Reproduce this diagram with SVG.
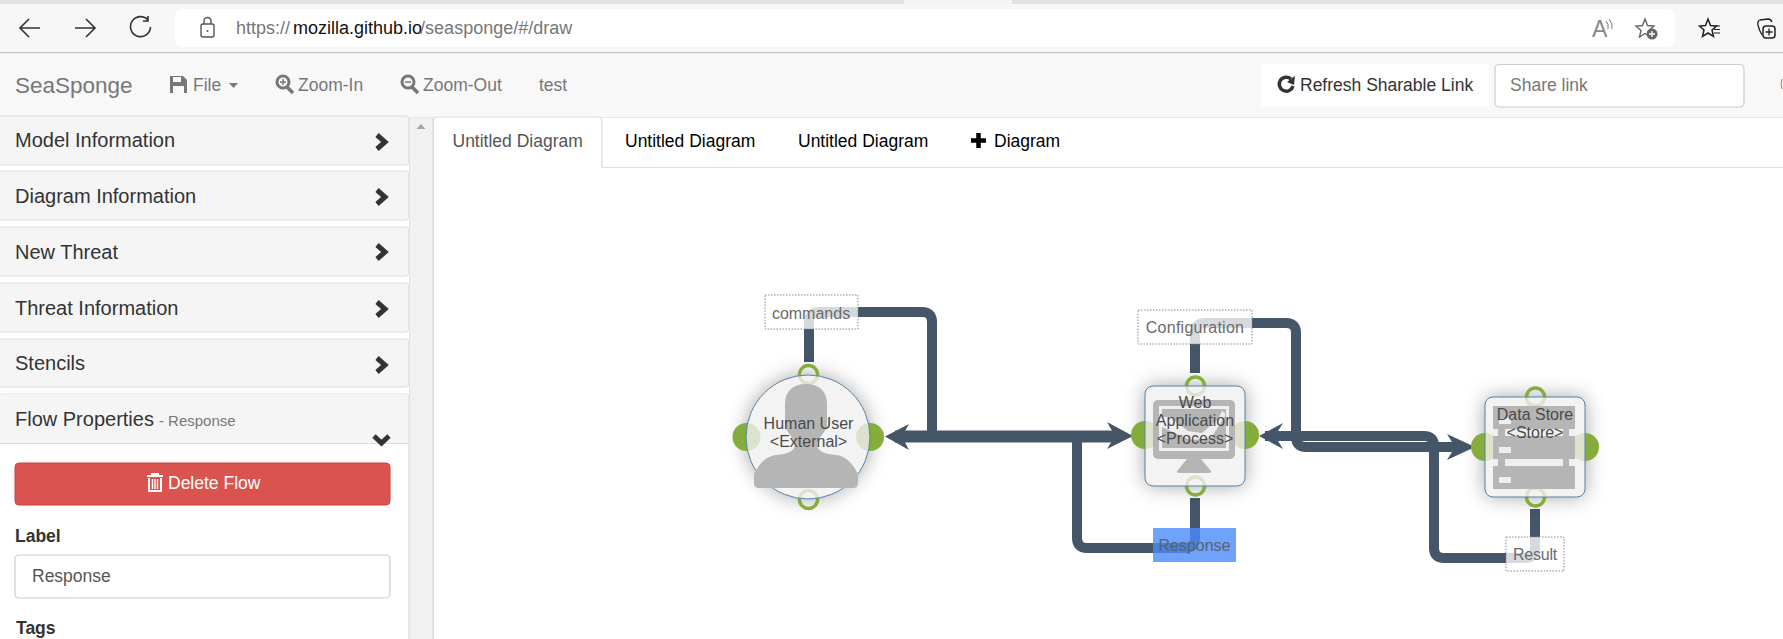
<svg xmlns="http://www.w3.org/2000/svg" width="1783" height="639" viewBox="0 0 1783 639">
<style>
text{font-family:"Liberation Sans",Arial,sans-serif}
.nav{font-size:17.5px;fill:#777}
.head{font-size:20px;fill:#333}
.tab{font-size:17.5px;fill:#000}
.panel{fill:#f5f5f5;stroke:#ddd;stroke-width:1.2}
.chev{fill:none;stroke:#333;stroke-width:5}
.ic{fill:none;stroke:#333;stroke-width:1.6}
.flow{fill:none;stroke:#455668;stroke-width:10;stroke-linejoin:round}
.main{stroke-width:12}
.arrow{fill:#455668}
.anchor{fill:#85ad3c}
.ring{fill:none;stroke:#85ad3c;stroke-width:3.5}
.body{fill:#f0f0f0;fill-opacity:.8;stroke:#5583a6;stroke-width:1}
.mask{fill:#fff}
.shadow{fill:#000;fill-opacity:.36;filter:url(#blur)}
.icon{fill:#b5b5b5}
.gap{fill:#efefef}
.nlabel{font-size:16px;fill:#4a4a4a;text-anchor:middle}
.lbox{fill:#fff;fill-opacity:.78;stroke:#888;stroke-width:1;stroke-dasharray:1.5 1.5}
.ltext{font-size:16px;fill:#6a6a6a;text-anchor:middle}
</style>
<defs>
<filter id="blur" x="-50%" y="-50%" width="200%" height="200%"><feGaussianBlur stdDeviation="10"/></filter>
</defs>
<rect width="1783" height="639" fill="#fff"/>

<g id="browser-chrome">
<rect width="1783" height="52" fill="#f7f7f7"/>
<rect width="1783" height="4" fill="#e2e2e2"/>
<rect x="904" width="108" height="4" fill="#f3f3f3"/>
<rect y="52" width="1783" height="1.5" fill="#c4c4c4"/>
<rect x="175" y="9" width="1500" height="38" rx="7" fill="#fff"/>
<path class="ic" d="M40 28H20M29 19l-9 9 9 9M75 28h20M86 19l9 9-9 9"/>
<path class="ic" d="M148 20a10 10 0 1 0 2.500 7M148 16v5h-5"/>
<rect x="201" y="24" width="13" height="13" rx="2" fill="none" stroke="#555" stroke-width="1.4"/>
<path d="M204 24v-3a3.500 3.500 0 0 1 7 0v3" fill="none" stroke="#555" stroke-width="1.4"/>
<circle cx="207.500" cy="31" r="1" fill="#555"/>
<text x="236" y="34" font-size="18" fill="#767676">https://<tspan fill="#111" dx="3">mozilla.github.io</tspan><tspan dx="-2">/seasponge/#/draw</tspan></text>
<text x="1592" y="37" font-size="23" fill="#888">A</text>
<path d="M1606 21q3 3 2 8M1609 19q4 4 3 10" fill="none" stroke="#777" stroke-width="1"/>
<path d="M1645 19l2.500 6.500 6.500.5-5 4.500 1.500 6.500-5.500-3.500-5.500 3.500 1.500-6.500-5-4.500 6.500-.5z" fill="none" stroke="#666" stroke-width="1.400"/>
<circle cx="1652" cy="34" r="5.500" fill="#666"/><path d="M1649 34h6M1652 31v6" stroke="#fff" stroke-width="1.300"/>
<path d="M1708 19l2.500 6.500 6 .5-4.500 4 1.500 6.500-5.500-3.500-5.500 3.500 1.500-6.500-4.500-4 6-.5z" fill="#f7f7f7" stroke="#222" stroke-width="1.500"/>
<path d="M1714 26h6M1714 29.500h6M1714 33h6" stroke="#222" stroke-width="1.200"/>
<rect x="1763" y="26" width="12" height="12" rx="3" fill="none" stroke="#222" stroke-width="1.500"/>
<path d="M1765.500 32h7M1769 28.500v7M1762 35q-3-5-4-10-1-4 2-5l8-1q3 0 4 3" fill="none" stroke="#222" stroke-width="1.300"/>
</g>

<g id="navbar">
<rect y="53.500" width="1783" height="64" fill="#f8f8f8"/>
<rect y="117" width="1783" height="1" fill="#e7e7e7"/>
<text x="15" y="93" font-size="22.500" fill="#777">SeaSponge</text>
<path d="M170 76h13l4 4v13h-17z" fill="#777"/><rect x="173" y="77" width="8" height="5" fill="#f8f8f8"/><rect x="173" y="86" width="11" height="7" fill="#f8f8f8"/>
<text class="nav" x="193" y="91">File</text>
<path d="M229 83h9l-4.500 5z" fill="#777"/>
<circle cx="283" cy="82" r="6" fill="none" stroke="#777" stroke-width="3"/><path d="M287 87l6 6" stroke="#777" stroke-width="3.500"/><path d="M280 82h6M283 79v6" stroke="#777" stroke-width="1.500"/>
<text class="nav" x="298" y="91">Zoom-In</text>
<circle cx="408" cy="82" r="6" fill="none" stroke="#777" stroke-width="3"/><path d="M412 87l6 6" stroke="#777" stroke-width="3.500"/><path d="M405 82h6" stroke="#777" stroke-width="1.500"/>
<text class="nav" x="423" y="91">Zoom-Out</text>
<text class="nav" x="539" y="91">test</text>
<rect x="1261" y="64" width="228" height="43" rx="4" fill="#fff"/>
<path d="M1291 79a7 7 0 1 0 2 7" fill="none" stroke="#333" stroke-width="3.500"/><path d="M1287 82l8-6-1 9z" fill="#333"/>
<text x="1300" y="91" font-size="17.500" fill="#333">Refresh Sharable Link</text>
<rect x="1495" y="64.500" width="249" height="42.500" rx="4" fill="#fff" stroke="#ccc" stroke-width="1.200"/>
<text x="1510" y="91" font-size="17.500" fill="#777">Share link</text>
<path d="M1782 79q-2 5 0 10" fill="none" stroke="#a08050" stroke-width="1"/>
</g>

<g id="sidebar">
<rect x="-2" y="116" width="411" height="49" rx="4" class="panel"/>
<text class="head" x="15" y="147">Model Information</text>
<path class="chev" d="M377 135l8 7-8 7"/>
<rect x="-2" y="171" width="411" height="49" rx="4" class="panel"/>
<text class="head" x="15" y="203">Diagram Information</text>
<path class="chev" d="M377 190l8 7-8 7"/>
<rect x="-2" y="227" width="411" height="49" rx="4" class="panel"/>
<text class="head" x="15" y="259">New Threat</text>
<path class="chev" d="M377 245l8 7-8 7"/>
<rect x="-2" y="283" width="411" height="49" rx="4" class="panel"/>
<text class="head" x="15" y="315">Threat Information</text>
<path class="chev" d="M377 302l8 7-8 7"/>
<rect x="-2" y="339" width="411" height="48" rx="4" class="panel"/>
<text class="head" x="15" y="370">Stencils</text>
<path class="chev" d="M377 358l8 7-8 7"/>
<rect x="-2" y="394" width="411" height="260" rx="4" fill="#fff" stroke="#ddd" stroke-width="1.200"/>
<rect x="-1" y="394.500" width="409" height="48.500" fill="#f5f5f5"/>
<path d="M0 443.500H409" stroke="#ddd" stroke-width="1.200"/>
<text class="head" x="15" y="426">Flow Properties<tspan font-size="15" fill="#777" dx="5">- Response</tspan></text>
<path class="chev" d="M374 436l7.500 7 7.500-7"/>
<rect x="15" y="463" width="375" height="42" rx="4" fill="#d9534f" stroke="#d43f3a" stroke-width="1"/>
<path d="M147 476h16M152 476v-2h6v2M149 478v13h12v-13" fill="none" stroke="#fff" stroke-width="2"/><path d="M152.500 479v10M155 479v10M157.500 479v10" stroke="#fff" stroke-width="1.400"/>
<text x="168" y="489" font-size="17.500" fill="#fff">Delete Flow</text>
<text x="15" y="542" font-size="17.500" font-weight="700" fill="#333">Label</text>
<rect x="15" y="555" width="375" height="43" rx="4" fill="#fff" stroke="#ccc" stroke-width="1.200"/>
<text x="32" y="582" font-size="17.500" fill="#555">Response</text>
<text x="16" y="634" font-size="17.500" font-weight="700" fill="#333">Tags</text>
<rect x="409.500" y="118" width="23" height="521" fill="#f1f1f1"/>
<path d="M409.500 118V639M432.500 118V639" stroke="#e2e2e2"/>
<path d="M416.500 129l4.500-5 4.500 5z" fill="#a5a5a5"/>
</g>

<g id="tabs">
<path d="M433.500 639V121q0-4 4-4H598q4 0 4 4V167.500H1783" fill="#fff" stroke="#ddd" stroke-width="1.200"/>
<text class="tab" x="452.500" y="147" style="fill:#555">Untitled Diagram</text>
<text class="tab" x="625" y="147">Untitled Diagram</text>
<text class="tab" x="798" y="147">Untitled Diagram</text>
<path d="M971 140.500H986M978.500 133V148" stroke="#000" stroke-width="4.500"/>
<text class="tab" x="994" y="147">Diagram</text>
</g>

<g id="connectors">
<path class="flow" d="M809 362V322q0-10 10-10H922q10 0 10 10V436"/>
<path class="flow main" d="M895 436.500H1120"/>
<path class="arrow" d="M885 436.500L909 424 902 436.500 909 450z"/>
<path class="arrow" d="M1133 436L1107 422 1115 436 1107 449z"/>
<path class="flow" d="M1195 498V538q0 10-10 10H1087q-10 0-10-10V437"/>
<path class="flow" d="M1195 373V333q0-10 10-10H1286q10 0 10 10V437q0 10 10 10H1460"/>
<path class="flow" d="M1265 436H1424q10 0 10 10V548q0 10 10 10H1525q10 0 10-10V509"/>
<path class="arrow" d="M1259 436L1283 423 1275 436 1283 449z"/>
<path class="arrow" d="M1475 447L1447 434 1455 447 1447 460z"/>
</g>

<g id="node-human-user">
<circle class="shadow" cx="808" cy="437" r="62"/>
<circle class="mask" cx="808" cy="437" r="62"/>
<circle class="anchor" cx="746.500" cy="437" r="14"/>
<circle class="anchor" cx="870" cy="437" r="14"/>
<circle class="ring" cx="808.500" cy="374.500" r="9"/>
<circle class="ring" cx="808.500" cy="499.500" r="9"/>
<circle class="body" cx="808" cy="437" r="62"/>
<path class="icon" d="M806 384C820 384 827 392 827 404L827 424C827 432 817 438 817 444C817 452 826 454 836 455C845 456 852 462 858 474L858 483Q858 488 853 488L759 488Q754 488 754 483L754 474C760 462 767 456 776 455C786 454 795 452 795 444C795 438 785 432 785 424L785 404C785 392 792 384 806 384Z"/>
<text class="nlabel" x="808.500" y="429">Human User</text>
<text class="nlabel" x="808.500" y="447">&lt;External&gt;</text>
</g>

<g id="node-web-application">
<rect class="shadow" x="1145" y="386" width="100" height="100" rx="8"/>
<rect class="mask" x="1145" y="386" width="100" height="100" rx="8"/>
<circle class="anchor" cx="1145" cy="435" r="14"/>
<circle class="anchor" cx="1245" cy="435" r="14"/>
<circle class="ring" cx="1195.500" cy="386" r="9"/>
<circle class="ring" cx="1195.500" cy="486" r="9"/>
<rect class="body" x="1145" y="386" width="100" height="100" rx="8"/>
<rect class="icon" x="1153" y="400" width="82" height="59" rx="5"/>
<path class="icon" d="M1187 459h14l10 12q0 2-3 2h-28q-3 0-3-2z"/>
<rect class="gap" x="1159" y="406" width="70" height="45"/>
<rect class="icon" x="1162" y="409" width="64" height="39"/>
<path d="M1162 418q8-4 14 4l12 9 14 2 16-14 4-8 3 2v3l-14 22-20 2-14-6-15-7z" fill="#efefef"/>
<text class="nlabel" x="1195" y="408">Web</text>
<text class="nlabel" x="1195" y="426">Application</text>
<text class="nlabel" x="1195" y="444">&lt;Process&gt;</text>
</g>

<g id="node-data-store">
<rect class="shadow" x="1485" y="397" width="100" height="100" rx="8"/>
<rect class="mask" x="1485" y="397" width="100" height="100" rx="8"/>
<circle class="anchor" cx="1485" cy="447" r="14"/>
<circle class="anchor" cx="1585" cy="447" r="14"/>
<circle class="ring" cx="1535.500" cy="397" r="9"/>
<circle class="ring" cx="1535.500" cy="497" r="9"/>
<rect class="body" x="1485" y="397" width="100" height="100" rx="8"/>
<rect class="icon" x="1493" y="406" width="82" height="83"/>
<path class="gap" d="M1493 429h5v7h-5zM1505 429h58v7h-58zM1569 429h6v7h-6zM1493 459h5v7h-5zM1505 459h58v7h-58zM1569 459h6v7h-6zM1499 418h12v6h-12zM1499 447h12v6h-12zM1499 477h12v6h-12z"/>
<text class="nlabel" x="1535" y="420">Data Store</text>
<text class="nlabel" x="1535" y="438">&lt;Store&gt;</text>
</g>

<g id="label-commands">
<rect class="lbox" x="765" y="295" width="93" height="34"/>
<text class="ltext" x="811" y="319">commands</text>
</g>
<g id="label-configuration">
<rect class="lbox" x="1138" y="310" width="114" height="34"/>
<text class="ltext" x="1195" y="333" letter-spacing=".25">Configuration</text>
</g>
<g id="label-response">
<rect x="1153" y="528" width="83" height="34" fill="#4a8bfa" fill-opacity=".8"/>
<text class="ltext" x="1194.500" y="551" style="fill:#5a6070">Response</text>
</g>
<g id="label-result">
<rect class="lbox" x="1506" y="537" width="58" height="34"/>
<text class="ltext" x="1535" y="560" letter-spacing="-.2">Result</text>
</g>
</svg>
